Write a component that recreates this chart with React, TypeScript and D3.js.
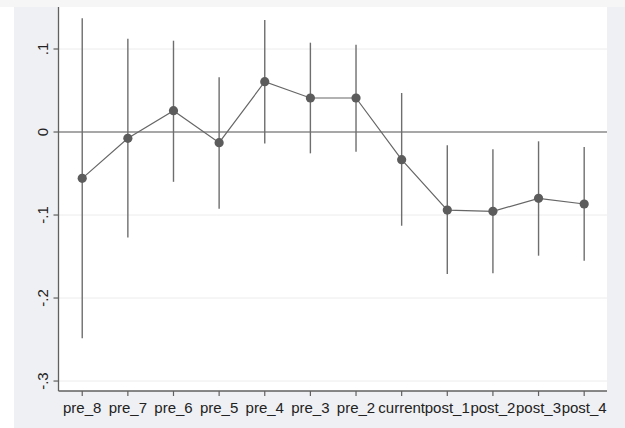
import React from "react";
import * as d3 from "d3";

const categories = ["pre_8", "pre_7", "pre_6", "pre_5", "pre_4", "pre_3", "pre_2", "current", "post_1", "post_2", "post_3", "post_4"];
const estimates = [-0.0558, -0.0076, 0.0257, -0.0129, 0.0606, 0.041, 0.041, -0.0333, -0.094, -0.0956, -0.0799, -0.0867];
const ciLower = [-0.2486, -0.127, -0.060, -0.0924, -0.0137, -0.0257, -0.0237, -0.1129, -0.171, -0.170, -0.149, -0.155];
const ciUpper = [0.137, 0.1124, 0.110, 0.066, 0.135, 0.1076, 0.105, 0.047, -0.016, -0.0209, -0.0112, -0.018];
const yTicks = [0.1, 0, -0.1, -0.2, -0.3];
const yTickLabels = [".1", "0", "-.1", "-.2", "-.3"];

const W = 625;
const H = 428;
const L = 58.5, R = 607, T = 7, B = 391;
const FONT = "'Liberation Sans', Arial, sans-serif";

export default function App() {
  const x = d3.scaleLinear().domain([0.48, 12.5]).range([L, R]);
  const y = d3.scaleLinear().domain([-0.312, 0.1506]).range([B, T]);
  const pts = estimates.map((v, i) => [x(i + 1), y(v)] as [number, number]);
  const line = d3.line()(pts) || "";

  return (
    <svg width={W} height={H} style={{ position: "absolute", left: 0, top: 0 }} xmlns="http://www.w3.org/2000/svg">
      <rect x={0} y={0} width={W} height={H} fill="#ffffff" />
      <rect x={0} y={0} width={W} height={T} fill="#f6f6f6" />
      <rect x={14} y={T} width={W - 14} height={H - T} fill="#eff0f3" />
      <rect x={L} y={T} width={R - L} height={B - T} fill="#ffffff" />
      {yTicks.filter(v => v !== 0).map(v => (
        <line key={"g" + v} x1={L} x2={R} y1={y(v)} y2={y(v)} stroke="#ececec" strokeWidth={1} />
      ))}
      <line x1={L} x2={R} y1={y(0)} y2={y(0)} stroke="#8a8a8a" strokeWidth={1.5} />
      {categories.map((c, i) => (
        <line key={"ci" + c} x1={x(i + 1)} x2={x(i + 1)} y1={y(ciLower[i])} y2={y(ciUpper[i])} stroke="#6e6e6e" strokeWidth={1.4} />
      ))}
      <path d={line} fill="none" stroke="#666666" strokeWidth={1.2} />
      {pts.map((p, i) => (
        <circle key={"m" + i} cx={p[0]} cy={p[1]} r={4.6} fill="#5c5c5c" />
      ))}
      <line x1={L} x2={L} y1={T} y2={B} stroke="#606060" strokeWidth={1.3} />
      <line x1={L} x2={R} y1={B} y2={B} stroke="#606060" strokeWidth={1.3} />
      {yTicks.map((v, i) => (
        <g key={"yt" + v}>
          <line x1={L - 5} x2={L} y1={y(v)} y2={y(v)} stroke="#606060" strokeWidth={1.2} />
          <text transform={`translate(48,${y(v)}) rotate(-90)`} textAnchor="middle" fontFamily={FONT} fontSize={15} fill="#222">{yTickLabels[i]}</text>
        </g>
      ))}
      {categories.map((c, i) => (
        <g key={"xt" + c}>
          <line x1={x(i + 1)} x2={x(i + 1)} y1={B} y2={B + 5} stroke="#606060" strokeWidth={1.2} />
          <text x={x(i + 1)} y={413} textAnchor="middle" fontFamily={FONT} fontSize={15} fill="#222">{c}</text>
        </g>
      ))}
    </svg>
  );
}
